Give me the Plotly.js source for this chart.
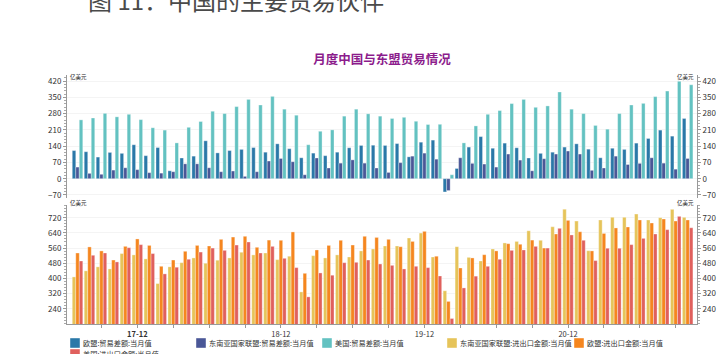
<!DOCTYPE html>
<html>
<head>
<meta charset="utf-8">
<script src="https://cdn.plot.ly/plotly-3.0.1.min.js"></script>
<style>html,body{margin:0;padding:0;background:#fff;}#chart{width:728px;height:354px;}</style>
</head>
<body>
<div id="chart"></div>
<script>
// ---- data ----
const months = ['17-07','17-08','17-09','17-10','17-11','17-12',
  '18-01','18-02','18-03','18-04','18-05','18-06','18-07','18-08','18-09','18-10','18-11','18-12',
  '19-01','19-02','19-03','19-04','19-05','19-06','19-07','19-08','19-09','19-10','19-11','19-12',
  '20-01','20-02','20-03','20-04','20-05','20-06','20-07','20-08','20-09','20-10','20-11','20-12',
  '21-01','21-02','21-03','21-04','21-05','21-06','21-07','21-08','21-09','21-10'];

const euBalance = [121,116,93,113,109,146,99,134,34,89,97,163,111,121,126,134,114,150,129,90,110,99,114,133,143,144,143,151,94,157,166,-57,44,136,181,131,153,133,89,109,114,136,150,127,90,131,126,153,173,209,183,259];
const aseanBalance = [50,23,19,37,47,39,26,24,30,64,64,47,30,33,10,30,76,87,73,17,89,46,67,81,67,46,27,69,97,110,84,-51,90,66,63,50,106,80,34,86,106,119,106,36,46,97,61,66,90,67,41,87];
const usBalance = [253,261,281,266,277,254,219,209,154,221,246,290,280,310,341,317,354,299,273,146,204,210,269,299,279,269,259,264,247,233,234,17,154,227,277,293,323,341,307,313,373,299,280,229,213,280,317,324,353,377,419,404];

const aseanTrade = [408,440,461,450,531,524,503,373,461,483,508,480,496,508,538,524,534,499,517,329,520,508,524,513,545,555,571,571,613,639,513,335,567,511,492,555,587,595,651,601,672,765,702,546,708,722,722,739,708,720,764,722];
const euTrade = [534,566,545,497,569,608,574,464,497,543,574,571,606,618,622,564,602,601,645,427,550,574,601,576,622,616,606,567,595,648,517,279,455,508,525,545,583,580,602,560,634,706,646,545,637,666,671,708,692,713,702,708];
const usTrade = [492,522,534,487,562,578,531,424,459,501,539,560,548,576,592,534,569,506,457,303,429,417,483,485,497,476,469,450,464,457,413,189,350,412,464,501,548,550,569,560,664,629,601,494,559,559,578,611,634,657,727,667];

const seriesNames = ['欧盟:贸易差额:当月值','东南亚国家联盟:贸易差额:当月值','美国:贸易差额:当月值',
  '东南亚国家联盟:进出口金额:当月值','欧盟:进出口金额:当月值','美国:进出口金额:当月值'];
const seriesColors = ['#2a78a8','#4a5797','#63c2c1','#e6c45a','#f5861f','#e0605d'];

const quarterTicks = ['17-09','17-12','18-03','18-06','18-09','18-12','19-03','19-06','19-09','19-12','20-03','20-06','20-09','20-12','21-03','21-06','21-09'];
const quarterLabels = ['','<b>17-12</b>','','','','18-12','','','','19-12','','','','20-12','','',''];

const chartTitle = '月度中国与东盟贸易情况';
const docHeading = '图 11：中国的主要贸易伙伴';
const unitLabel = '亿美元';

// ---- build ----
const FONT = '"Noto Sans CJK SC", "Noto Sans", sans-serif';
function bar(y, i, xa, ya) {
  return {type:'bar', x: months, y: y, name: seriesNames[i], xaxis: xa, yaxis: ya,
    marker:{color: seriesColors[i], line:{color:'rgba(255,255,255,0.55)', width:0.6}},
    showlegend:false, hovertemplate:'%{x}: %{y}<extra>'+seriesNames[i]+'</extra>'};
}
const traces = [
  bar(euBalance,0,'x','y'), bar(aseanBalance,1,'x','y'), bar(usBalance,2,'x','y'),
  bar(aseanTrade,3,'x2','y2'), bar(euTrade,4,'x2','y2'), bar(usTrade,5,'x2','y2'),
  {type:'scatter', x:[months[0]], y:[null], xaxis:'x', yaxis:'y3', showlegend:false, hoverinfo:'skip'},
  {type:'scatter', x:[months[0]], y:[null], xaxis:'x2', yaxis:'y4', showlegend:false, hoverinfo:'skip'}
];

const W = 728, H = 354, ML = 67, MR = 31, MT = 75, MB = 30;
const PW = W - ML - MR, PH = H - MT - MB;
const px = x => (x - ML) / PW;
const py = y => (H - MB - y) / PH;

const tickFont = {family: FONT, size: 8, color:'#333'};
const topRange = [-83, 446], botRange = [160, 787];
const xRange = [-0.88, 51.78];
const topTicks = [-70,0,70,140,210,280,350,420];
const botTicks = [240,320,400,480,560,640,720];

function yax(range, ticks, domain, side, minorD, extra) {
  return Object.assign({range: range, domain: domain, side: side, tickmode:'array', tickvals: ticks,
    showline:true, linecolor:'#999', linewidth:1, ticks:'outside', ticklen:3, tickcolor:'#999',
    tickfont: tickFont, showgrid: side === 'left', gridcolor:'#f4f4f4', zeroline:false,
    minor:{tickmode:'linear', tick0:0, dtick:minorD, ticks:'outside', ticklen:2, tickcolor:'#aaa', showgrid:false},
    fixedrange:true}, extra || {});
}

const annotations = [
  {text: docHeading, xref:'paper', yref:'paper', x: px(86), y: py(-1), xanchor:'left', yanchor:'middle',
   showarrow:false, font:{family: FONT, size:24, color:'#4a4a4a'}},
  {text: unitLabel, xref:'paper', yref:'paper', x: px(68), y: py(77), xanchor:'left', yanchor:'middle', showarrow:false, font:{family:FONT, size:5.5, color:'#222'}},
  {text: unitLabel, xref:'paper', yref:'paper', x: px(696), y: py(77), xanchor:'right', yanchor:'middle', showarrow:false, font:{family:FONT, size:5.5, color:'#222'}},
  {text: unitLabel, xref:'paper', yref:'paper', x: px(68), y: py(203), xanchor:'left', yanchor:'middle', showarrow:false, font:{family:FONT, size:5.5, color:'#222'}},
  {text: unitLabel, xref:'paper', yref:'paper', x: px(696), y: py(203), xanchor:'right', yanchor:'middle', showarrow:false, font:{family:FONT, size:5.5, color:'#222'}}
];
const shapes = [];
// custom legend
const legendPos = [[70,343],[196,343],[322,343],[447,343],[574,343],[70,354]];
legendPos.forEach((p, i) => {
  shapes.push({type:'rect', xref:'paper', yref:'paper', x0: px(p[0]), x1: px(p[0]+10), y0: py(p[1]+5), y1: py(p[1]-5),
    fillcolor: seriesColors[i], line:{color:'rgba(255,255,255,0.7)', width:0.6}});
  annotations.push({text: seriesNames[i], xref:'paper', yref:'paper', x: px(p[0]+11), y: py(p[1]), xanchor:'left', yanchor:'middle',
    showarrow:false, font:{family: FONT, size:7.2, color:'#333'}});
});

const layout = {
  width: W, height: H, margin:{l:ML, r:MR, t:MT, b:MB, pad:0},
  paper_bgcolor:'#fff', plot_bgcolor:'#fff',
  font:{family: FONT, size:8, color:'#333'},
  barmode:'group', bargap:0.12, bargroupgap:0,
  title:{text:'<b>'+chartTitle+'</b>', font:{family: FONT, size:12.5, color:'#8c1c8c'}, x:0.5, xref:'paper', y:1-60/H, yref:'container', yanchor:'middle'},
  xaxis:{domain:[0,1], anchor:'y', type:'category', categoryorder:'array', categoryarray: months, range: xRange, autorange:false,
    showticklabels:false, ticks:'', showline:false, showgrid:false, zeroline:false, fixedrange:true},
  xaxis2:{domain:[0,1], anchor:'y2', type:'category', categoryorder:'array', categoryarray: months, range: xRange, autorange:false,
    tickmode:'array', tickvals: quarterTicks, ticktext: quarterLabels, ticks:'outside', ticklen:3, tickcolor:'#999',
    showline:true, linecolor:'#999', linewidth:1, showgrid:false, zeroline:false, tickfont:{family:FONT, size:7.5, color:'#333'}, fixedrange:true},
  yaxis: yax(topRange, topTicks, [0.506,1], 'left', 14, {anchor:'x'}),
  yaxis3: yax(topRange, topTicks, [0.506,1], 'right', 14, {anchor:'x', overlaying:'y'}),
  yaxis2: yax(botRange, botTicks, [0,0.478], 'left', 16, {anchor:'x2'}),
  yaxis4: yax(botRange, botTicks, [0,0.478], 'right', 16, {anchor:'x2', overlaying:'y2'}),
  annotations: annotations, shapes: shapes, showlegend:false
};

Plotly.newPlot('chart', traces, layout, {staticPlot:true, displayModeBar:false});
</script>
</body>
</html>
